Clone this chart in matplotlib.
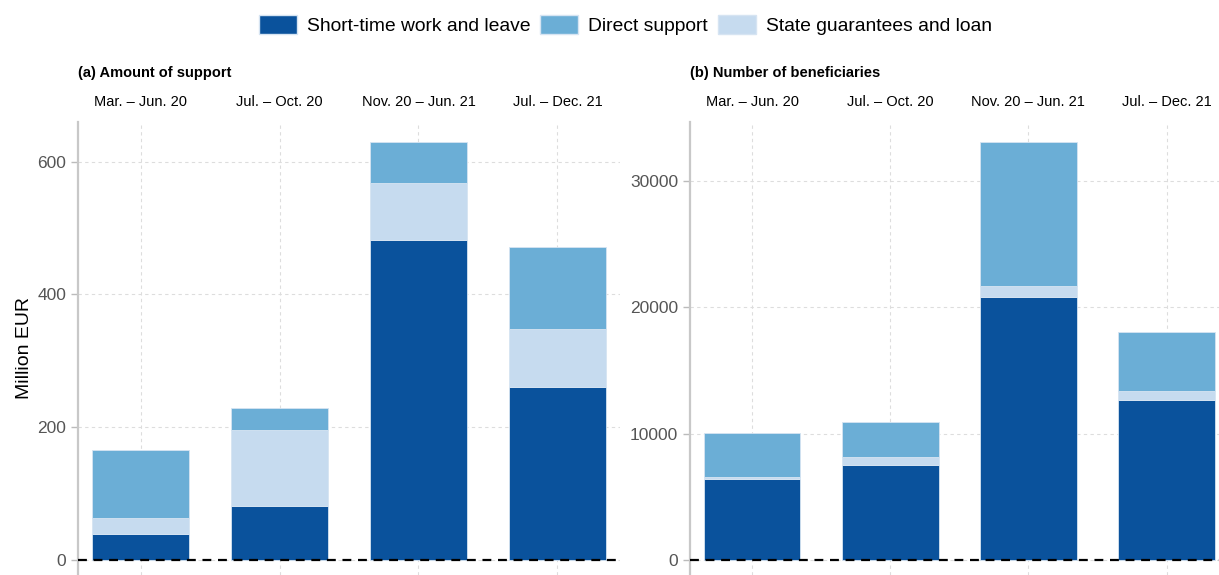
import matplotlib.pyplot as plt
import numpy as np
from matplotlib.patches import Patch

plt.rcParams['font.family'] = ['Liberation Sans', 'DejaVu Sans']

periods = ['Mar. – Jun. 20', 'Jul. – Oct. 20', 'Nov. 20 – Jun. 21', 'Jul. – Dec. 21']
series_names = ['Short-time work and leave', 'Direct support', 'State guarantees and loan']

# (a) amount of support, million EUR
amount_short_time = [39, 81, 482, 261]
amount_guarantees = [24, 115, 86, 87]
amount_direct = [103, 33, 62, 124]

# (b) number of beneficiaries
benef_short_time = [6400, 7500, 20800, 12650]
benef_guarantees = [170, 630, 870, 700]
benef_direct = [3450, 2780, 11400, 4680]

c_dark = '#0a529c'
c_mid = '#6baed6'
c_light = '#c6dbef'
grid_c = '#dddddd'

fig = plt.figure(figsize=(12.19, 5.75), dpi=100)
ax1 = fig.add_axes([0.064, 0.0, 0.4446, 0.788])
ax2 = fig.add_axes([0.566, 0.0, 0.434, 0.788])


def draw_panel(ax, short, guar, direct, ylim, yticks, xmax, title):
    x = np.arange(len(periods))
    short = np.array(short)
    guar = np.array(guar)
    direct = np.array(direct)
    ax.set_axisbelow(True)
    ax.bar(x, short, width=0.7, color=c_dark, edgecolor='#d6e4f2', linewidth=0.6)
    ax.bar(x, guar, width=0.7, bottom=short, color=c_light, edgecolor='#d6e4f2', linewidth=0.6)
    ax.bar(x, direct, width=0.7, bottom=short + guar, color=c_mid, edgecolor='#d6e4f2', linewidth=0.6)
    ax.axhline(0, color='black', linestyle=(0, (4, 3)), linewidth=1.6, zorder=5)
    ax.set_xlim(-0.45, xmax)
    ax.set_ylim(*ylim)
    ax.set_yticks(yticks)
    ax.set_xticks(x)
    ax.set_xticklabels(periods, fontsize=10.5)
    ax.xaxis.tick_top()
    ax.tick_params(axis='x', length=0, pad=9)
    ax.tick_params(axis='y', labelsize=12.5, labelcolor='#555555', color='#bbbbbb', length=5, width=1)
    ax.grid(True, color=grid_c, linestyle=(0, (3, 3)), linewidth=0.8)
    for s in ['top', 'right', 'bottom']:
        ax.spines[s].set_visible(False)
    ax.spines['left'].set_color('#c8c8c8')
    ax.spines['left'].set_linewidth(1.6)
    ax.text(0.0, 1.092, title, transform=ax.transAxes, fontsize=10.5,
            fontweight='bold', ha='left', va='bottom')


draw_panel(ax1, amount_short_time, amount_guarantees, amount_direct,
           (-23, 660), [0, 200, 400, 600], 3.45, '(a) Amount of support')
draw_panel(ax2, benef_short_time, benef_guarantees, benef_direct,
           (-1190, 34670), [0, 10000, 20000, 30000], 3.38, '(b) Number of beneficiaries')
ax1.set_ylabel('Million EUR', fontsize=14, labelpad=3)

handles = [Patch(facecolor=c_dark, edgecolor='#d6e4f2'),
           Patch(facecolor=c_mid, edgecolor='#d6e4f2'),
           Patch(facecolor=c_light, edgecolor='#d6e4f2')]
fig.legend(handles, series_names, loc='center', bbox_to_anchor=(0.513, 0.957), ncol=3,
           frameon=False, fontsize=13.9, handlelength=1.97, handleheight=1.14,
           columnspacing=0.5, handletextpad=0.52)

fig.savefig('out.png', dpi=100)
